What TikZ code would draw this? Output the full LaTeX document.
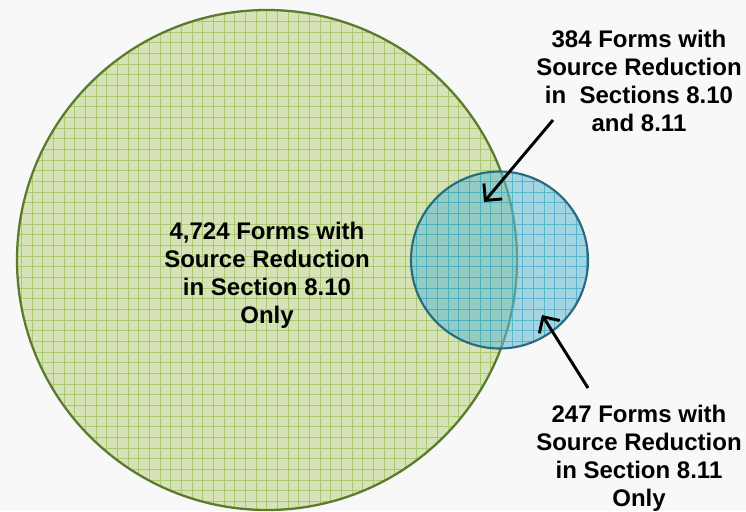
\documentclass[tikz,border=0pt]{standalone}
\usepackage{fontspec}
\setmainfont{Liberation Sans}
\usetikzlibrary{arrows.meta}
\definecolor{bgc}{HTML}{F8F8F8}
\definecolor{gfill}{HTML}{D5E3B6}
\definecolor{ggrid}{HTML}{ABC872}
\definecolor{gedge}{HTML}{5A7A2C}
\definecolor{bfill}{HTML}{62BAD2}
\definecolor{bgrid}{HTML}{3AA8C4}
\definecolor{bedge}{HTML}{2A6A7E}
\tikzset{
  lbl/.style={font=\bfseries\fontsize{18pt}{21.2pt}\selectfont, align=center, inner sep=0pt, anchor=north, text=black},
  pointer/.style={draw=black, line width=2.2pt, -{Straight Barb[length=9pt,width=18pt,line width=2.2pt]}},
}
\begin{document}
\begin{tikzpicture}[x=0.75pt,y=-0.75pt]
\fill[bgc] (0,0) rectangle (746,511);
\useasboundingbox (0,0) rectangle (746,511);
% big circle
\coordinate (bc) at (267,260);
\fill[gfill] (bc) circle[radius=250];
\begin{scope}
  \clip (bc) circle[radius=250];
  \draw[ggrid, line width=0.55pt, step=8pt] (0,0) grid (746,511);
\end{scope}
\draw[gedge, line width=1.7pt] (bc) circle[radius=250];
% small circle
\coordinate (sc) at (499.5,260);
\fill[bfill, fill opacity=0.57] (sc) circle[radius=88.5];
\begin{scope}
  \clip (sc) circle[radius=88.5];
  \draw[bgrid, line width=0.6pt, opacity=0.7, step=8pt] (0,0) grid (746,511);
\end{scope}
\draw[bedge, line width=1.6pt] (sc) circle[radius=88.5];
% labels
\node[lbl] (main) at (267,221.5) {4,724 Forms with\\Source Reduction\\in Section 8.10\\Only};
\node[lbl] (both) at (639,29.5) {384 Forms with\\Source Reduction\\in\ \ Sections 8.10\\and 8.11};
\node[lbl] (only) at (639,404.5) {247 Forms with\\Source Reduction\\in Section 8.11\\Only};
% arrows
\coordinate (a1s) at (553,120);
\coordinate (a1e) at (484,202);
\coordinate (a2s) at (588,388);
\coordinate (a2e) at (542,315);
\draw[pointer] (a1s) -- (a1e);
\draw[pointer] (a2s) -- (a2e);
\end{tikzpicture}
\end{document}
